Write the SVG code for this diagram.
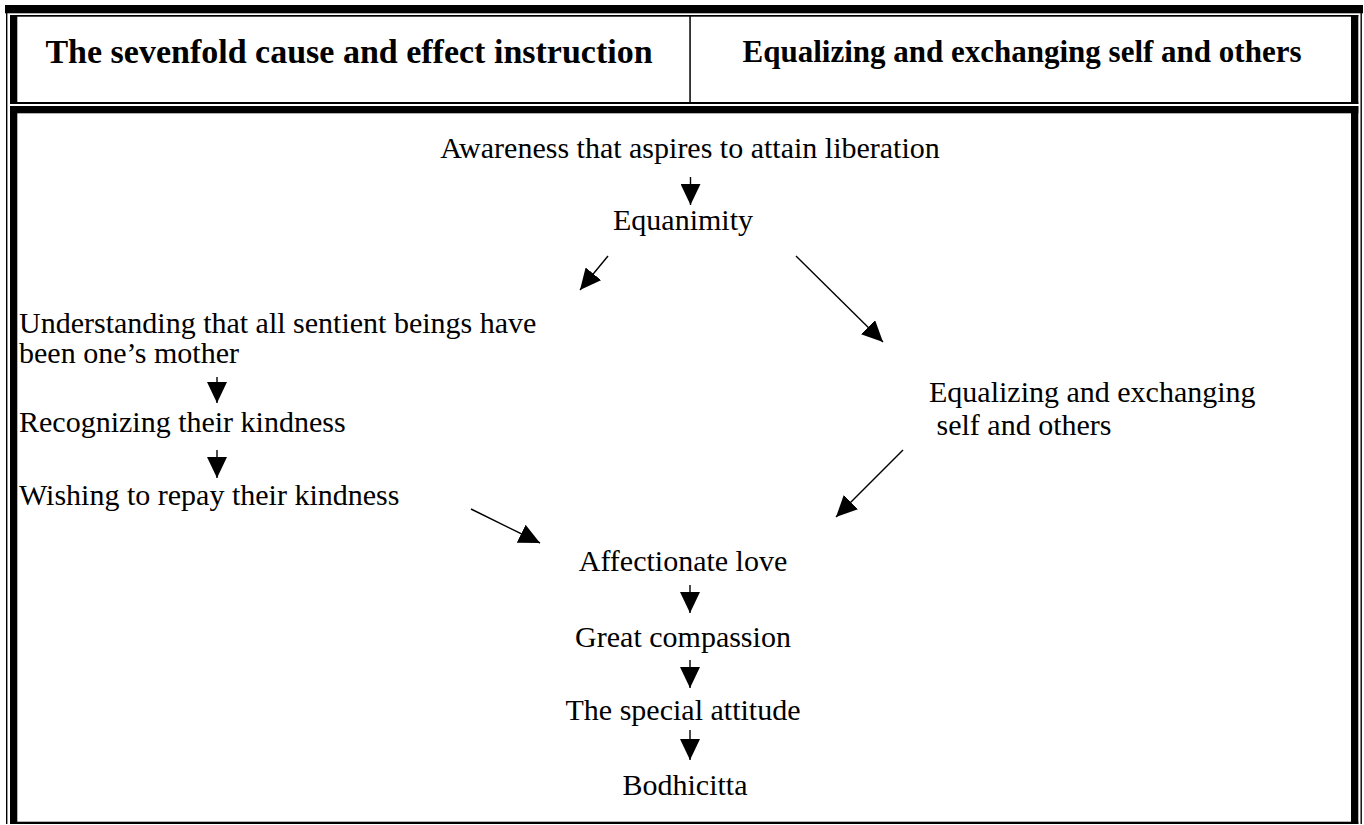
<svg xmlns="http://www.w3.org/2000/svg" width="1364" height="825" viewBox="0 0 1364 825">
<style>
.t{font-family:"Liberation Serif","Times New Roman",serif;font-size:30px;fill:#000}
.h{font-family:"Liberation Serif","Times New Roman",serif;font-weight:bold;fill:#000}
.b{fill:#000}
.c{stroke:#000;stroke-width:1.4;fill:none}
</style>
<defs>
<marker id="ah" markerUnits="userSpaceOnUse" markerWidth="21" markerHeight="20" refX="21" refY="10" orient="auto">
<path d="M0,0 L21,10 L0,20 z" fill="#000"/>
</marker>
</defs>
<rect width="1364" height="825" fill="#fff"/>
<g id="frame">
<rect class="b" x="5" y="5" width="1358" height="8.3"/>
<rect class="b" x="6" y="13" width="1.4" height="811"/>
<rect class="b" x="1360.5" y="13" width="1.4" height="811"/>
<rect class="b" x="10" y="15" width="1348.3" height="1.7"/>
<rect class="b" x="10" y="15" width="7.3" height="89"/>
<rect class="b" x="1351" y="15" width="7.3" height="89"/>
<rect class="b" x="10" y="102" width="1348.3" height="2"/>
<rect class="b" x="689.3" y="16" width="1.5" height="86"/>
<rect class="b" x="10" y="106" width="1348.3" height="7.3"/>
<rect class="b" x="10" y="106" width="7.3" height="718"/>
<rect class="b" x="1351" y="106" width="7.3" height="718"/>
<rect class="b" x="10" y="821.7" width="1348.3" height="2.3"/>
</g>
<g id="header-left"><text class="h" x="349" y="63" font-size="34" text-anchor="middle">The sevenfold cause and effect instruction</text></g>
<g id="header-right"><text class="h" x="1022" y="62" font-size="31" text-anchor="middle">Equalizing and exchanging self and others</text></g>
<g id="n-awareness"><text class="t" x="690" y="158" text-anchor="middle">Awareness that aspires to attain liberation</text></g>
<g id="n-equanimity"><text class="t" x="683" y="230" text-anchor="middle">Equanimity</text></g>
<g id="n-understanding"><text class="t" x="19" y="333">Understanding that all sentient beings have</text><text class="t" x="19" y="363">been one’s mother</text></g>
<g id="n-recognizing"><text class="t" x="19" y="432">Recognizing their kindness</text></g>
<g id="n-wishing"><text class="t" x="19" y="505">Wishing to repay their kindness</text></g>
<g id="n-equalizing"><text class="t" x="929" y="402">Equalizing and exchanging</text><text class="t" x="929" y="435" xml:space="preserve"> self and others</text></g>
<g id="n-affectionate"><text class="t" x="683" y="571" text-anchor="middle">Affectionate love</text></g>
<g id="n-compassion"><text class="t" x="683" y="647" text-anchor="middle">Great compassion</text></g>
<g id="n-special"><text class="t" x="683" y="720" text-anchor="middle">The special attitude</text></g>
<g id="n-bodhicitta"><text class="t" x="685" y="795" text-anchor="middle" font-size="37">Bodhicitta</text></g>
<g id="connectors">
<line class="c" x1="690.5" y1="177" x2="690.5" y2="205" marker-end="url(#ah)"/>
<line class="c" x1="608" y1="256" x2="580" y2="290" marker-end="url(#ah)"/>
<line class="c" x1="796" y1="256" x2="883" y2="342" marker-end="url(#ah)"/>
<line class="c" x1="217" y1="377" x2="217" y2="403" marker-end="url(#ah)"/>
<line class="c" x1="217" y1="450" x2="217" y2="478" marker-end="url(#ah)"/>
<line class="c" x1="471" y1="509" x2="540" y2="543" marker-end="url(#ah)"/>
<line class="c" x1="903" y1="450" x2="836" y2="517" marker-end="url(#ah)"/>
<line class="c" x1="690" y1="585" x2="690" y2="613" marker-end="url(#ah)"/>
<line class="c" x1="690" y1="660" x2="690" y2="688" marker-end="url(#ah)"/>
<line class="c" x1="690" y1="730" x2="690" y2="760" marker-end="url(#ah)"/>
</g>
</svg>
